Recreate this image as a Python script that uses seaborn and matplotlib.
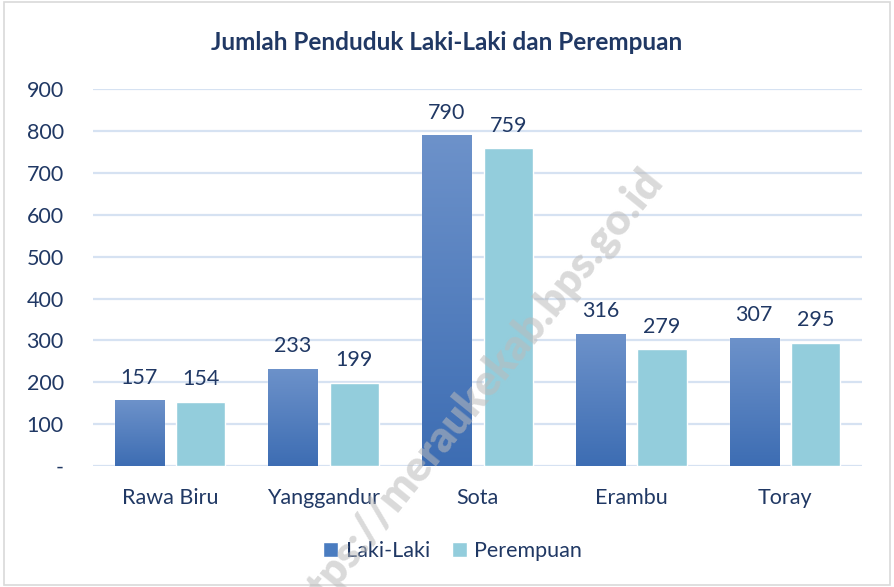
import numpy as np
import pandas as pd
import seaborn as sns
import matplotlib.pyplot as plt
from matplotlib.patches import Rectangle

# data
desa = ['Rawa Biru', 'Yanggandur', 'Sota', 'Erambu', 'Toray']
laki = [157, 233, 790, 316, 307]
perempuan = [154, 199, 759, 279, 295]
yticks = [0, 100, 200, 300, 400, 500, 600, 700, 800, 900]
ylabels = ['-', '100', '200', '300', '400', '500', '600', '700', '800', '900']

df = pd.DataFrame({'Desa': desa * 2,
                   'Jumlah': laki + perempuan,
                   'Jenis': ['Laki-Laki'] * len(desa) + ['Perempuan'] * len(desa)})

sns.set_style('white')
plt.rcParams['font.family'] = ['Lato', 'DejaVu Sans']
txt = '#203864'

fig = plt.figure(figsize=(8.94, 5.87), dpi=100)
ax = fig.add_axes([0.104, 0.206, 0.86, 0.642])

sns.barplot(data=df, x='Desa', y='Jumlah', hue='Jenis',
            palette=['#4A7CC0', '#93CDDC'], width=0.8, gap=0.2,
            saturation=1, ax=ax, zorder=3)

# gradient for Laki-Laki bars
grad = np.linspace(0, 1, 256).reshape(-1, 1)
cmap = plt.matplotlib.colors.LinearSegmentedColormap.from_list('g', ['#3D6DB3', '#6D92CA'])
for p in ax.containers[0]:
    x0, y0 = p.get_x(), p.get_y()
    w, h = p.get_width(), p.get_height()
    im = ax.imshow(grad, cmap=cmap, origin='lower', aspect='auto',
                   extent=[x0, x0 + w, y0, y0 + h], zorder=4)
    im.set_clip_path(p)

for c in ax.containers:
    ax.bar_label(c, padding=9, fontsize=15.5, color=txt)

ax.set_xlim(-0.5, 4.5)
ax.set_ylim(0, 900)
ax.set_yticks(yticks)
ax.set_yticklabels(ylabels)
ax.yaxis.grid(True, color='#D6E2F2', linewidth=1.6, zorder=0)
ax.set_axisbelow(True)
for s in ax.spines.values():
    s.set_visible(False)
ax.tick_params(axis='both', length=0, labelsize=15.5, labelcolor=txt)
ax.tick_params(axis='y', pad=21)
ax.tick_params(axis='x', pad=16)
ax.set_xlabel('')
ax.set_ylabel('')

fig.text(0.5, 0.928, 'Jumlah Penduduk Laki-Laki dan Perempuan',
         ha='center', va='center', fontsize=17.5, fontweight='bold', color=txt)

ax.legend(loc='center', bbox_to_anchor=(0.468, -0.225), ncol=2, frameon=False,
          fontsize=15.5, labelcolor=txt, handlelength=0.7, handleheight=0.7,
          handletextpad=0.35, columnspacing=1.0)

# watermark
fig.text(0.528, 0.322, 'https://meraukekab.bps.go.id', ha='center', va='center',
         rotation=51, rotation_mode='anchor', fontsize=31, fontweight='heavy',
         color='#BBBBBB', alpha=0.55, zorder=10)

fig.patches.append(Rectangle((0.004, 0.004), 0.992, 0.992, transform=fig.transFigure,
                             fill=False, edgecolor='#D9D9D9', linewidth=1.2))

fig.savefig('out.png', dpi=100)
